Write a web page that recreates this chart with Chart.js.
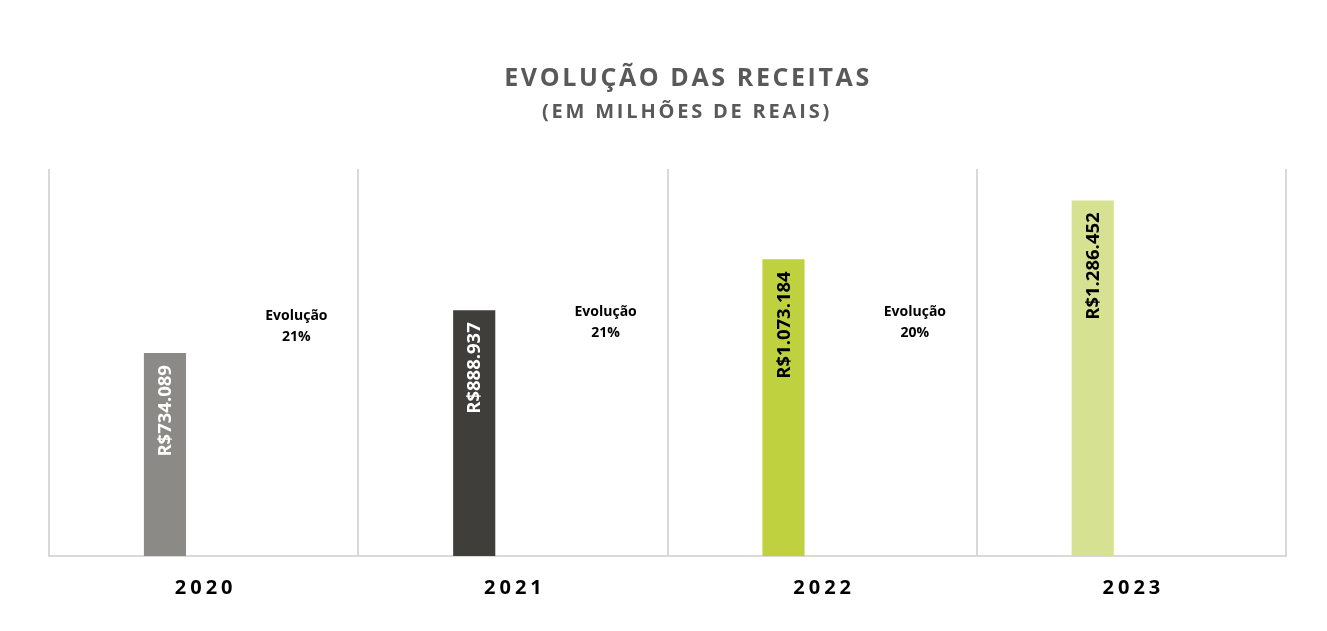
<!DOCTYPE html>
<html>
<head>
<meta charset="utf-8">
<script src="https://cdn.jsdelivr.net/npm/chart.js@4.4.0/dist/chart.umd.min.js"></script>
<style>
html,body{margin:0;padding:0;background:#fff;}
#wrap{width:1327px;height:631px;position:relative;}
</style>
</head>
<body>
<div id="wrap"><canvas id="c"></canvas></div>
<script>
const categories = ['2020', '2021', '2022', '2023'];
const revenues = [734089, 888937, 1073184, 1286452];
const revenueLabels = ['R$734.089', 'R$888.937', 'R$1.073.184', 'R$1.286.452'];
const barColors = ['#8C8A87', '#403E3B', '#BFD13E', '#D6E192'];
const labelColors = ['#FFFFFF', '#FFFFFF', '#000000', '#000000'];
const evolutionLabels = ['21%', '21%', '20%'];
const titleText = 'EVOLUÇÃO DAS RECEITAS';
const subtitleText = '(EM MILHÕES DE REAIS)';

const overlay = {
  id: 'overlay',
  afterDatasetsDraw(chart) {
    const ctx = chart.ctx;
    const xs = chart.scales.x;
    const meta = chart.getDatasetMeta(0);
    ctx.save();
    // title
    ctx.fillStyle = '#595959';
    ctx.textAlign = 'center';
    ctx.textBaseline = 'middle';
    ctx.font = 'bold 25px "Open Sans"';
    ctx.letterSpacing = '2.6px';
    ctx.fillText(titleText, 688, 79);
    ctx.font = 'bold 20px "Open Sans"';
    ctx.letterSpacing = '2.8px';
    ctx.fillText(subtitleText, 687, 112);
    // x labels
    ctx.fillStyle = '#000';
    ctx.font = 'bold 20px "Open Sans"';
    ctx.letterSpacing = '4px';
    categories.forEach((c, i) => {
      ctx.fillText(c, xs.getPixelForValue(i) + 2, 588);
    });
    ctx.letterSpacing = '0px';
    // bar labels
    ctx.font = 'bold 18.5px "Open Sans"';
    meta.data.forEach((bar, i) => {
      ctx.save();
      ctx.translate(bar.x, bar.y + 12);
      ctx.rotate(-Math.PI / 2);
      ctx.textAlign = 'right';
      ctx.textBaseline = 'middle';
      ctx.fillStyle = labelColors[i];
      ctx.fillText(revenueLabels[i], 0, 1);
      ctx.restore();
    });
    // evolution labels
    ctx.fillStyle = '#000';
    ctx.font = 'bold 14px "Open Sans"';
    ctx.textAlign = 'center';
    evolutionLabels.forEach((e, i) => {
      const x = xs.getPixelForValue(i + 0.3);
      const y = i === 0 ? 316 : 312;
      ctx.fillText('Evolução', x, y);
      ctx.fillText(e, x, y + 21);
    });
    ctx.restore();
  }
};

new Chart(document.getElementById('c'), {
  type: 'bar',
  data: {
    labels: categories,
    datasets: [
      { data: revenues, backgroundColor: barColors, categoryPercentage: 0.5, barPercentage: 0.545 },
      { data: categories.map(() => null), backgroundColor: 'rgba(0,0,0,0)', categoryPercentage: 0.5, barPercentage: 0.545 }
    ]
  },
  options: {
    responsive: true,
    maintainAspectRatio: false,
    animation: false,
    layout: { padding: { left: 49, right: 41, top: 169, bottom: 75 } },
    plugins: { legend: { display: false }, tooltip: { enabled: false }, title: { display: false } },
    scales: {
      x: {
        offset: true,
        grid: { offset: true, color: '#D9D9D9', lineWidth: 2, drawTicks: false },
        border: { color: '#D9D9D9', width: 2 },
        ticks: { display: false }
      },
      y: {
        display: false,
        min: 0,
        max: 1400000
      }
    }
  },
  plugins: [overlay]
});
</script>
</body>
</html>
